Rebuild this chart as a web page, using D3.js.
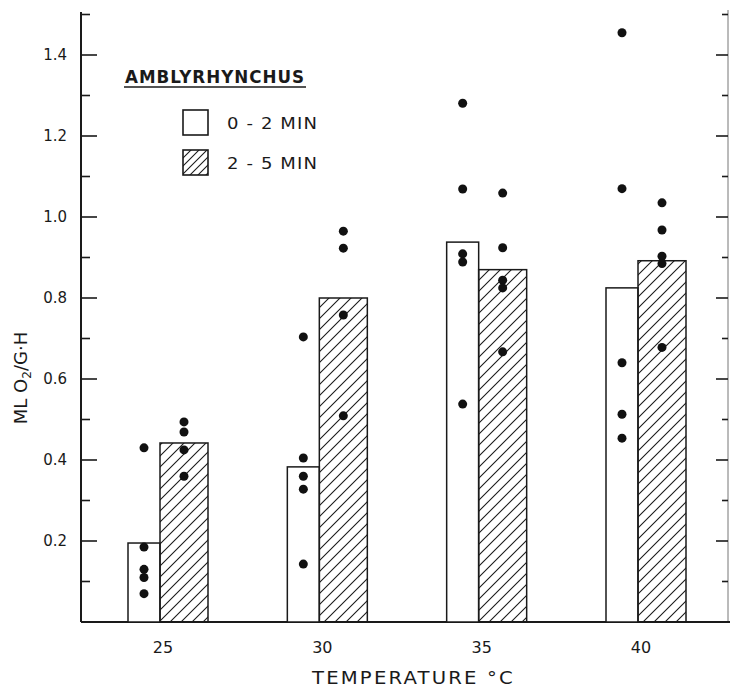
<!DOCTYPE html>
<html>
<head>
<meta charset="utf-8">
<script src="https://cdn.jsdelivr.net/npm/d3@7"></script>
<style>
  body { margin: 0; background: #fff; }
  svg { display: block; font-family: "DejaVu Sans", sans-serif; }
</style>
</head>
<body>
<div id="chart"></div>
<script>
// temperatures (°C)
const temps = [25, 30, 35, 40];
// bar heights, ml O2 / g·h
const mean0to2 = [0.195, 0.383, 0.938, 0.825];
const mean2to5 = [0.442, 0.8, 0.87, 0.892];
// individual points for each temperature
const points0to2 = [
  [0.43, 0.185, 0.13, 0.11, 0.07],
  [0.704, 0.405, 0.36, 0.328, 0.143],
  [1.281, 1.069, 0.909, 0.889, 0.538],
  [1.455, 1.07, 0.64, 0.513, 0.454],
];
const points2to5 = [
  [0.494, 0.469, 0.425, 0.36],
  [0.965, 0.923, 0.758, 0.509],
  [1.059, 0.924, 0.844, 0.825, 0.667],
  [1.035, 0.968, 0.903, 0.885, 0.678],
];
const yTicks = [0.2, 0.4, 0.6, 0.8, 1.0, 1.2, 1.4];
const legendLabels = ["0 - 2  MIN", "2 - 5  MIN"];

const W = 730, H = 689;
const ink = "#1a1a1a";

const svg = d3.select("#chart").append("svg").attr("width", W).attr("height", H);

const x = d3.scaleLinear().domain([25, 40]).range([168, 646]);
const y = d3.scaleLinear().domain([0, 1.5]).range([622, 14.5]);

// hatch patterns
const defs = svg.append("defs");
function hatch(id, step) {
  const p = defs.append("pattern")
    .attr("id", id)
    .attr("patternUnits", "userSpaceOnUse")
    .attr("width", step).attr("height", step);
  p.append("path")
    .attr("d", `M${-step},${step * 2} L${step * 2},${-step} M0,${step} L${step},0 M${-step},${step} L${step},${-step} M0,${step * 2} L${step * 2},0`)
    .attr("stroke", ink).attr("stroke-width", 1.1).attr("fill", "none");
}
hatch("hatch", 11);
hatch("hatchSmall", 8);

// axes frame
const leftX = 81, rightX = 728;
svg.append("line").attr("x1", leftX).attr("x2", leftX).attr("y1", 12).attr("y2", y(0))
  .attr("stroke", ink).attr("stroke-width", 2);
svg.append("line").attr("x1", rightX).attr("x2", rightX).attr("y1", 10).attr("y2", y(0))
  .attr("stroke", "#777").attr("stroke-width", 1);
svg.append("line").attr("x1", leftX).attr("x2", W).attr("y1", y(0)).attr("y2", y(0))
  .attr("stroke", ink).attr("stroke-width", 2);

const allTicks = d3.range(1, 16).map((d) => d / 10);
const isMajor = (v) => Math.round(v * 10) % 2 === 0;

svg.append("g").selectAll("line").data(allTicks).join("line")
  .attr("x1", leftX).attr("x2", (d) => leftX + (isMajor(d) ? 16 : 9))
  .attr("y1", (d) => y(d)).attr("y2", (d) => y(d))
  .attr("stroke", ink).attr("stroke-width", 1.6);

svg.append("g").selectAll("line").data(allTicks).join("line")
  .attr("x1", rightX).attr("x2", (d) => rightX - (isMajor(d) ? 12 : 6))
  .attr("y1", (d) => y(d)).attr("y2", (d) => y(d))
  .attr("stroke", ink).attr("stroke-width", 1.6);

svg.append("g").selectAll("text").data(yTicks).join("text")
  .attr("x", 67).attr("y", (d) => y(d) + 5)
  .attr("text-anchor", "end").attr("font-size", 15).attr("fill", ink)
  .text((d) => d.toFixed(1));

svg.append("g").selectAll("text").data(temps).join("text")
  .attr("x", (d) => x(d) - 5).attr("y", 653)
  .attr("text-anchor", "middle").attr("font-size", 16).attr("fill", ink)
  .text((d) => d);

svg.append("text")
  .attr("x", 312).attr("y", 684)
  .attr("textLength", 203).attr("lengthAdjust", "spacingAndGlyphs")
  .attr("font-size", 18).attr("letter-spacing", 2).attr("fill", ink)
  .text("TEMPERATURE °C");

const yLab = svg.append("text")
  .attr("transform", "translate(27,378) rotate(-90)")
  .attr("text-anchor", "middle")
  .attr("font-size", 18).attr("fill", ink);
yLab.append("tspan").text("ML O");
yLab.append("tspan").attr("font-size", 12).attr("dy", 4).text("2");
yLab.append("tspan").attr("dy", -4).text("/G·H");

// bars
const bars = svg.append("g");
bars.selectAll(".b02").data(temps).join("rect")
  .attr("x", (d) => x(d) - 40).attr("width", 32)
  .attr("y", (d, i) => y(mean0to2[i])).attr("height", (d, i) => y(0) - y(mean0to2[i]))
  .attr("fill", "#fff").attr("stroke", ink).attr("stroke-width", 1.5);
bars.selectAll(".b25").data(temps).join("rect")
  .attr("x", (d) => x(d) - 8).attr("width", 48)
  .attr("y", (d, i) => y(mean2to5[i])).attr("height", (d, i) => y(0) - y(mean2to5[i]))
  .attr("fill", "url(#hatch)").attr("stroke", ink).attr("stroke-width", 1.5);

// dots
const dots = svg.append("g").attr("fill", "#111");
temps.forEach((t, i) => {
  points0to2[i].forEach((v) => {
    dots.append("circle").attr("cx", x(t) - 24).attr("cy", y(v)).attr("r", 4.5);
  });
  points2to5[i].forEach((v) => {
    dots.append("circle").attr("cx", x(t) + 16).attr("cy", y(v)).attr("r", 4.5);
  });
});

// legend
svg.append("text")
  .attr("x", 125).attr("y", 83)
  .attr("textLength", 180).attr("lengthAdjust", "spacingAndGlyphs")
  .attr("font-size", 17).attr("font-weight", 600).attr("letter-spacing", 1).attr("fill", ink)
  .text("AMBLYRHYNCHUS");
svg.append("line").attr("x1", 124).attr("x2", 306).attr("y1", 87).attr("y2", 87)
  .attr("stroke", ink).attr("stroke-width", 1.6);

const legend = svg.append("g").selectAll("g").data(legendLabels).join("g")
  .attr("transform", (d, i) => `translate(183, ${110 + i * 40})`);
legend.append("rect")
  .attr("width", 25).attr("height", 25)
  .attr("fill", (d, i) => (i === 0 ? "#fff" : "url(#hatchSmall)"))
  .attr("stroke", ink).attr("stroke-width", 1.6);
legend.append("text")
  .attr("x", 44).attr("y", 19)
  .attr("textLength", 91).attr("lengthAdjust", "spacingAndGlyphs")
  .attr("font-size", 16).attr("letter-spacing", 1).attr("fill", ink)
  .text((d) => d);
</script>
</body>
</html>
